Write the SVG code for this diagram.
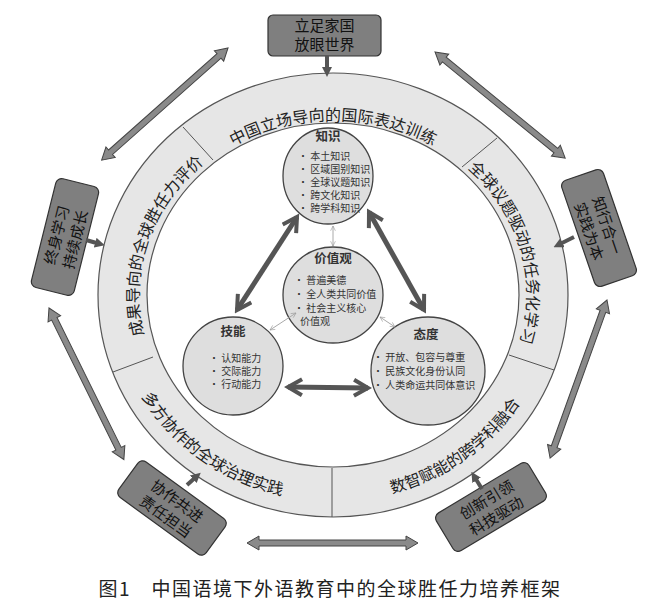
<svg xmlns="http://www.w3.org/2000/svg" width="665" height="614" viewBox="0 0 665 614">
<style>
.ring{fill:#e6e6e6;stroke:#555;stroke-width:1.2}
.div{stroke:#555;stroke-width:1}
.rt{font-family:"Noto Sans CJK SC",sans-serif;font-size:16px;fill:#222}
.cir{fill:#dedede;stroke:#444;stroke-width:1.3}
.ct{font-family:"Noto Sans CJK SC",sans-serif;font-size:12.5px;font-weight:bold;fill:#333;text-anchor:middle}
.ci{font-family:"Noto Sans CJK SC",sans-serif;font-size:10px;fill:#333}
.box{fill:#7f7f7f;stroke:#333;stroke-width:1.2}
.bt{font-family:"Noto Sans CJK SC",sans-serif;font-size:15px;fill:#111;text-anchor:middle}
.da{fill:#8a8a8a;stroke:#444;stroke-width:1}
.thick{stroke:#555;stroke-width:5;fill:none;marker-start:url(#vh);marker-end:url(#vh)}
.thin{stroke:#aaa;stroke-width:1;fill:none;marker-start:url(#th);marker-end:url(#th)}
.sa{stroke:#555;stroke-width:4;marker-end:url(#fh)}
</style>
<defs>
<marker id="vh" viewBox="0 0 10 10" refX="8" refY="5" markerWidth="4" markerHeight="4" orient="auto-start-reverse" markerUnits="strokeWidth"><path d="M1,1 L8,5 L1,9" fill="none" stroke="#555" stroke-width="2"/></marker>
<marker id="th" viewBox="0 0 10 10" refX="9" refY="5" markerWidth="6" markerHeight="6" orient="auto-start-reverse" markerUnits="strokeWidth"><path d="M1,1 L9,5 L1,9" fill="none" stroke="#999" stroke-width="1"/></marker>
<marker id="fh" viewBox="0 0 10 10" refX="5" refY="5" markerWidth="2.5" markerHeight="2.5" orient="auto"><path d="M0,0 L10,5 L0,10 Z" fill="#555"/></marker>
<path id="pTop" d="M196,172 A194,176 0 0,1 470,172"/>
<path id="pLeft" d="M150.7,355.2 A194,176 0 0,1 221.7,150.8"/>
<path id="pRight" d="M444.3,150.8 A194,176 0 0,1 508.8,369.4"/>
<path id="pBL" d="M116.4,330.8 A220,206 0 0,0 352.2,500.2"/>
<path id="pBR" d="M313.8,500.2 A220,206 0 0,0 549.6,330.8"/>
</defs>
<rect width="665" height="614" fill="#fff"/>
<g id="ring">
<path class="ring" fill-rule="evenodd" d="M98,295 A235,222 0 1,0 568,295 A235,222 0 1,0 98,295 Z M147,295 A186,172 0 1,1 519,295 A186,172 0 1,1 147,295 Z"/>
<line class="div" x1="183" y1="127" x2="213" y2="160"/>
<line class="div" x1="497" y1="138" x2="462" y2="167"/>
<line class="div" x1="554" y1="370" x2="509" y2="355"/>
<line class="div" x1="332" y1="468" x2="332" y2="517"/>
<line class="div" x1="113" y1="372" x2="153" y2="357"/>
<text class="rt"><textPath href="#pTop" startOffset="50%" text-anchor="middle">中国立场导向的国际表达训练</textPath></text>
<text class="rt"><textPath href="#pLeft" startOffset="50%" text-anchor="middle">成果导向的全球胜任力评价</textPath></text>
<text class="rt"><textPath href="#pRight" startOffset="50%" text-anchor="middle">全球议题驱动的任务化学习</textPath></text>
<text class="rt"><textPath href="#pBL" startOffset="50%" text-anchor="middle">多方协作的全球治理实践</textPath></text>
<text class="rt"><textPath href="#pBR" startOffset="50%" text-anchor="middle">数智赋能的跨学科融合</textPath></text>
</g>
<g id="zhishi">
<ellipse class="cir" cx="328" cy="176" rx="45" ry="48"/>
<text class="ct" x="328" y="141">知识</text>
<text class="ci" x="298" y="160">• 本土知识</text>
<text class="ci" x="298" y="173">• 区域国别知识</text>
<text class="ci" x="298" y="186">• 全球议题知识</text>
<text class="ci" x="298" y="199">• 跨文化知识</text>
<text class="ci" x="298" y="212">• 跨学科知识</text>
</g>
<g id="jiazhiguan">
<ellipse class="cir" cx="333" cy="295" rx="50" ry="48"/>
<text class="ct" x="333" y="263">价值观</text>
<text class="ci" x="294" y="284">• 普遍美德</text>
<text class="ci" x="294" y="298">• 全人类共同价值</text>
<text class="ci" x="294" y="312">• 社会主义核心</text>
<text class="ci" x="300" y="325">价值观</text>
</g>
<g id="jineng">
<ellipse class="cir" cx="233" cy="366" rx="50" ry="49"/>
<text class="ct" x="233" y="336">技能</text>
<text class="ci" x="209" y="362">• 认知能力</text>
<text class="ci" x="209" y="375">• 交际能力</text>
<text class="ci" x="209" y="388">• 行动能力</text>
</g>
<g id="taidu">
<ellipse class="cir" cx="428" cy="371" rx="57" ry="54"/>
<text class="ct" x="426" y="339">态度</text>
<text class="ci" x="373" y="361">• 开放、包容与尊重</text>
<text class="ci" x="373" y="375">• 民族文化身份认同</text>
<text class="ci" x="373" y="389">• 人类命运共同体意识</text>
</g>
<g id="box-top">
<rect class="box" x="268" y="15" width="113" height="41" rx="5"/>
<text class="bt" x="324.5" y="31">立足家国</text>
<text class="bt" x="324.5" y="50">放眼世界</text>
</g>
<g id="box-left" transform="translate(65,237) rotate(-76)">
<rect class="box" x="-56" y="-22" width="112" height="44" rx="6"/>
<text class="bt" x="0" y="-3">终身学习</text>
<text class="bt" x="0" y="16">持续成长</text>
</g>
<g id="box-right" transform="translate(599,228) rotate(71)">
<rect class="box" x="-56" y="-22" width="112" height="44" rx="6"/>
<text class="bt" x="0" y="-3">知行合一</text>
<text class="bt" x="0" y="16">实践为本</text>
</g>
<g id="box-bl" transform="translate(172,508) rotate(36)">
<rect class="box" x="-54" y="-22" width="108" height="44" rx="6"/>
<text class="bt" x="0" y="-3">协作共进</text>
<text class="bt" x="0" y="16">责任担当</text>
</g>
<g id="box-br" transform="translate(491,507) rotate(-31)">
<rect class="box" x="-54" y="-22" width="108" height="44" rx="6"/>
<text class="bt" x="0" y="-3">创新引领</text>
<text class="bt" x="0" y="16">科技驱动</text>
</g>
<g id="connectors">
<line class="thick" x1="297" y1="217" x2="237" y2="310"/>
<line class="thick" x1="369" y1="212" x2="424" y2="310"/>
<line class="thick" x1="288" y1="387" x2="368" y2="388"/>
<line class="thin" x1="333" y1="226" x2="333" y2="246"/>
<line class="thin" x1="296" y1="313" x2="270" y2="330"/>
<line class="thin" x1="380" y1="317" x2="395" y2="327"/>
<line class="sa" x1="327" y1="56" x2="327" y2="72"/>
<line class="sa" x1="86" y1="240" x2="100" y2="244"/>
<line class="sa" x1="574" y1="237" x2="558" y2="245"/>
<line class="sa" x1="187" y1="485" x2="197" y2="476"/>
<line class="sa" x1="482" y1="489" x2="474" y2="476"/>
<g transform="translate(228,48) rotate(138.4)"><path class="da" d="M0,0 L12,-7 L12,-3 L157,-3 L157,-7 L169,0 L157,7 L157,3 L12,3 L12,7 Z"/></g>
<g transform="translate(435,52) rotate(39.2)"><path class="da" d="M0,0 L12,-7 L12,-3 L156,-3 L156,-7 L168,0 L156,7 L156,3 L12,3 L12,7 Z"/></g>
<g transform="translate(49,308) rotate(63.7)"><path class="da" d="M0,0 L12,-7 L12,-3 L157,-3 L157,-7 L169,0 L157,7 L157,3 L12,3 L12,7 Z"/></g>
<g transform="translate(607,300) rotate(109.8)"><path class="da" d="M0,0 L12,-7 L12,-3 L156,-3 L156,-7 L168,0 L156,7 L156,3 L12,3 L12,7 Z"/></g>
<g transform="translate(247,543)"><path class="da" d="M0,0 L12,-7 L12,-3 L159,-3 L159,-7 L171,0 L159,7 L159,3 L12,3 L12,7 Z"/></g>
</g>
<text x="330" y="596" text-anchor="middle" font-family="'Noto Sans CJK SC',sans-serif" font-size="19" letter-spacing="1.5" fill="#222">图1　中国语境下外语教育中的全球胜任力培养框架</text>
</svg>
